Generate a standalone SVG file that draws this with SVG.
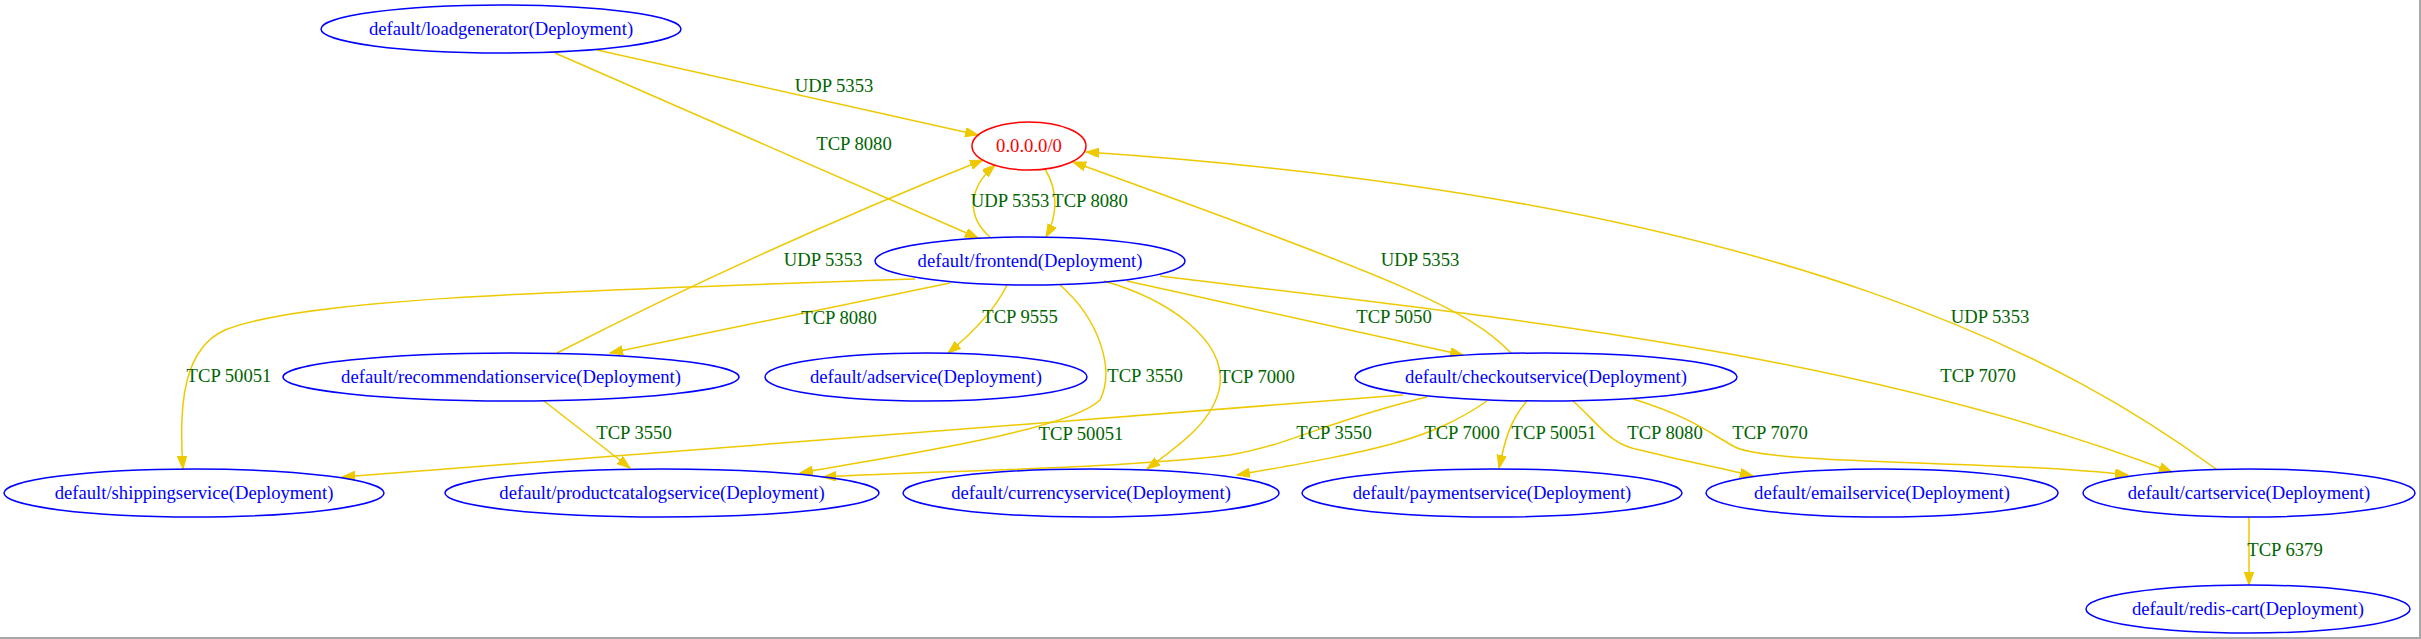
<svg xmlns="http://www.w3.org/2000/svg" width="2421" height="639" viewBox="0 0 2421 639">
<style>
.n ellipse{fill:none;stroke:#0000ff;stroke-width:1.5}
.n text{font-family:"Liberation Serif","Times New Roman",serif;font-size:18.67px;fill:#0000ff;text-anchor:middle}
#n_any ellipse{stroke:#ff0000}
#n_any text{fill:#ff0000}
.e path{fill:none;stroke:#eec900;stroke-width:1.5;marker-end:url(#ah)}
.e text{font-family:"Liberation Serif","Times New Roman",serif;font-size:18.67px;fill:#006400;text-anchor:middle}
</style>
<defs>
<marker id="ah" markerUnits="userSpaceOnUse" markerWidth="14" markerHeight="10" refX="13" refY="4.7" orient="auto" viewBox="0 0 14 10">
<path d="M0,0 L13,4.7 L0,9.4 z" fill="#eec900" stroke="#eec900" stroke-width="1"/>
</marker>
</defs>
<rect x="0" y="0" width="2421" height="639" fill="#ffffff"/>
<path d="M0,638 H2420 V0" fill="none" stroke="#a8a8a8" stroke-width="2"/>
<g id="connectors" class="e">
<path d="M597,50 L978,135"/>
<text x="834" y="92">UDP 5353</text>
<path d="M555,53 L978,238"/>
<text x="854" y="150">TCP 8080</text>
<path d="M990,237 C968,218 966,190 995,165"/>
<text x="1010" y="207">UDP 5353</text>
<path d="M1045,169 C1058,190 1058,215 1046,237"/>
<text x="1090" y="207">TCP 8080</text>
<path d="M557,353 C690,285 820,225 983,160"/>
<text x="823" y="266">UDP 5353</text>
<path d="M950,283 L610,353"/>
<text x="839" y="324">TCP 8080</text>
<path d="M1007,285 C995,310 970,335 948,353"/>
<text x="1020" y="323">TCP 9555</text>
<path d="M1060,285 C1100,320 1115,370 1100,400 C1070,430 900,455 800,473"/>
<text x="1145" y="382">TCP 3550</text>
<path d="M1104,281 C1170,300 1225,340 1220,385 C1215,420 1180,445 1147,469"/>
<text x="1257" y="383">TCP 7000</text>
<path d="M1127,281 L1463,355"/>
<text x="1394" y="323">TCP 5050</text>
<path d="M1160,276 C1500,318 1850,350 2172,472"/>
<text x="1978" y="382">TCP 7070</text>
<path d="M915,279 C520,292 300,300 225,330 C185,348 178,400 183,469"/>
<text x="229" y="382">TCP 50051</text>
<path d="M1511,353 C1470,310 1400,280 1073,162"/>
<text x="1420" y="266">UDP 5353</text>
<path d="M2216,469 C2080,370 1800,200 1086,152"/>
<text x="1990" y="323">UDP 5353</text>
<path d="M2249,517 L2249,585"/>
<text x="2285" y="556">TCP 6379</text>
<path d="M544,401 L630,468"/>
<text x="634" y="439">TCP 3550</text>
<path d="M1403,395 L342,477"/>
<text x="1081" y="440">TCP 50051</text>
<path d="M1427,397 C1330,420 1290,445 1230,455 C1100,470 950,470 823,477"/>
<text x="1334" y="439">TCP 3550</text>
<path d="M1487,401 C1430,440 1380,450 1237,475"/>
<text x="1462" y="439">TCP 7000</text>
<path d="M1527,401 C1510,420 1505,440 1499,468"/>
<text x="1554" y="439">TCP 50051</text>
<path d="M1573,401 C1600,425 1610,445 1640,450 C1680,460 1720,468 1753,476"/>
<text x="1665" y="439">TCP 8080</text>
<path d="M1633,399 C1695,418 1712,435 1735,447 C1770,465 2000,460 2128,475"/>
<text x="1770" y="439">TCP 7070</text>
</g>
<g id="n_loadgenerator" class="n"><ellipse cx="501" cy="29" rx="180" ry="24"/><text x="501" y="35">default/loadgenerator(Deployment)</text></g>
<g id="n_any" class="n"><ellipse cx="1029" cy="146" rx="57" ry="24"/><text x="1029" y="152">0.0.0.0/0</text></g>
<g id="n_frontend" class="n"><ellipse cx="1030" cy="261" rx="155" ry="24"/><text x="1030" y="267">default/frontend(Deployment)</text></g>
<g id="n_recommendation" class="n"><ellipse cx="511" cy="377" rx="228" ry="24"/><text x="511" y="383">default/recommendationservice(Deployment)</text></g>
<g id="n_adservice" class="n"><ellipse cx="926" cy="377" rx="161" ry="24"/><text x="926" y="383">default/adservice(Deployment)</text></g>
<g id="n_checkout" class="n"><ellipse cx="1546" cy="377" rx="191" ry="24"/><text x="1546" y="383">default/checkoutservice(Deployment)</text></g>
<g id="n_shipping" class="n"><ellipse cx="194" cy="493" rx="190" ry="24"/><text x="194" y="499">default/shippingservice(Deployment)</text></g>
<g id="n_productcatalog" class="n"><ellipse cx="662" cy="493" rx="217" ry="24"/><text x="662" y="499">default/productcatalogservice(Deployment)</text></g>
<g id="n_currency" class="n"><ellipse cx="1091" cy="493" rx="188" ry="24"/><text x="1091" y="499">default/currencyservice(Deployment)</text></g>
<g id="n_payment" class="n"><ellipse cx="1492" cy="493" rx="190" ry="24"/><text x="1492" y="499">default/paymentservice(Deployment)</text></g>
<g id="n_email" class="n"><ellipse cx="1882" cy="493" rx="176" ry="24"/><text x="1882" y="499">default/emailservice(Deployment)</text></g>
<g id="n_cart" class="n"><ellipse cx="2249" cy="493" rx="166" ry="24"/><text x="2249" y="499">default/cartservice(Deployment)</text></g>
<g id="n_redis" class="n"><ellipse cx="2248" cy="609" rx="162" ry="24"/><text x="2248" y="615">default/redis-cart(Deployment)</text></g>
</svg>
